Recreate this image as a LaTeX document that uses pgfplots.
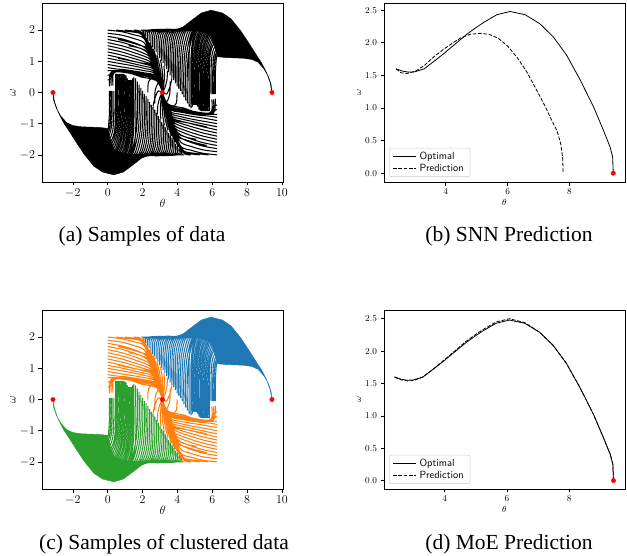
\documentclass[border=0pt]{standalone}
\usepackage{fontspec}
\usepackage{pgfplots}
\usepackage{pgfplotstable}
\pgfplotsset{compat=1.18}
\newfontfamily\capfont{Liberation Serif}
\definecolor{tabblue}{HTML}{1F77B4}
\definecolor{taborange}{HTML}{FF7F0E}
\definecolor{tabgreen}{HTML}{2CA02C}

% ---------- dense tail envelopes ----------
\pgfplotstableread{
x y
-3.14 0
-3.1 -0.25
-2.95 -0.5
-2.7 -0.75
-2.35 -0.97
-2.0 -1.06
-1.5 -1.1
-0.5 -1.12
0 -1.15
0.15 -1.5
0.4 -1.85
1.0 -1.97
2.3 -1.98
2.3 -2.0
2.0 -2.08
1.5 -2.3
0.9 -2.55
0.35 -2.64
-0.3 -2.55
-0.8 -2.36
-1.35 -1.98
-1.8 -1.6
-2.2 -1.25
-2.55 -0.95
-2.85 -0.62
-3.05 -0.3
-3.14 0
}\greenF
\pgfplotstableread{
x y
9.42 0
9.38 0.25
9.23 0.5
8.98 0.75
8.63 0.97
8.28 1.06
7.78 1.1
6.78 1.12
6.28 1.15
6.13 1.5
5.88 1.85
5.28 1.97
3.98 1.98
3.98 2.0
4.28 2.08
4.78 2.3
5.38 2.55
5.93 2.64
6.58 2.55
7.08 2.36
7.63 1.98
8.08 1.6
8.48 1.25
8.83 0.95
9.13 0.62
9.33 0.3
9.42 0
}\blueF

% ---------- green trajectories ----------
\pgfplotstableread{
x y
0.1 0.05
0.1 -0.6
0.06 -1.0
0 -1.2
-0.3 -1.2
nan nan
0.175 0.05
0.175 -0.65
0.13 -1.08
0.02 -1.3
-0.3 -1.35
nan nan
0.25 0.05
0.25 -0.7
0.2 -1.15
0.05 -1.4
-0.3 -1.5
nan nan
0.35 0.05
0.35 -0.6
0.3 -1.18
0.12 -1.48
-0.25 -1.6
nan nan
0.45 0.6
0.45 -0.5
0.4 -1.2
0.2 -1.55
-0.2 -1.7
nan nan
0.525 0.6
0.525 -0.55
0.46 -1.25
0.25 -1.62
-0.15 -1.8
nan nan
0.6 0.6
0.6 -0.6
0.53 -1.3
0.3 -1.7
-0.1 -1.9
nan nan
0.675 0.6
0.675 -0.65
0.6 -1.35
0.35 -1.78
-0.05 -1.98
nan nan
0.75 0.6
0.75 -0.7
0.67 -1.4
0.4 -1.85
0 -2.05
nan nan
0.825 0.6
0.825 -0.75
0.74 -1.45
0.45 -1.9
0.05 -2.12
nan nan
0.9 0.6
0.9 -0.8
0.8 -1.5
0.5 -1.95
0.1 -2.2
nan nan
0.975 0.58
0.975 -0.85
0.87 -1.55
0.55 -2.0
0.15 -2.25
nan nan
1.05 0.55
1.05 -0.9
0.93 -1.6
0.6 -2.05
0.2 -2.3
nan nan
1.125 0.45
1.125 -0.95
1.0 -1.65
0.65 -2.1
0.25 -2.35
nan nan
1.2 0.4
1.2 -1.0
1.06 -1.7
0.7 -2.15
0.3 -2.4
nan nan
1.275 0.4
1.275 -1.02
1.13 -1.72
0.78 -2.18
0.35 -2.45
nan nan
1.35 0.4
1.35 -1.05
1.2 -1.75
0.85 -2.2
0.4 -2.5
nan nan
1.425 0.45
1.425 -1.08
1.28 -1.78
0.92 -2.22
0.45 -2.52
nan nan
1.5 0.5
1.5 -1.1
1.35 -1.8
1.0 -2.25
0.5 -2.55
nan nan
1.6 0.45
1.61 -1.15
1.48 -1.82
1.15 -2.27
0.75 -2.45
nan nan
1.7 0.35
1.72 -0.4
1.65 -1.2
1.4 -1.85
1.0 -2.3
nan nan
1.8 0.25
1.82 -0.45
1.75 -1.25
1.5 -1.88
1.1 -2.3
nan nan
1.9 0.15
1.92 -0.5
1.85 -1.3
1.6 -1.9
1.2 -2.3
nan nan
2.0 0.05
2.02 -0.6
1.95 -1.35
1.72 -1.9
1.35 -2.25
nan nan
2.1 -0.05
2.12 -0.7
2.05 -1.4
1.85 -1.9
1.5 -2.2
nan nan
2.2 -0.12
2.21 -0.8
2.15 -1.45
1.95 -1.91
1.55 -2.2
nan nan
2.3 -0.2
2.3 -0.9
2.25 -1.5
2.05 -1.92
1.6 -2.2
nan nan
2.4 -0.3
2.4 -0.98
2.35 -1.55
2.15 -1.94
1.7 -2.16
nan nan
2.5 -0.4
2.5 -1.05
2.45 -1.6
2.25 -1.95
1.8 -2.12
nan nan
2.6 -0.47
2.6 -1.12
2.54 -1.65
2.35 -1.96
1.9 -2.1
nan nan
2.7 -0.55
2.7 -1.2
2.63 -1.7
2.45 -1.97
2.0 -2.08
nan nan
2.8 -0.65
2.8 -1.28
2.72 -1.75
2.52 -1.98
2.05 -2.06
nan nan
2.9 -0.75
2.9 -1.35
2.82 -1.8
2.6 -1.98
2.1 -2.05
nan nan
3.0 -0.85
3.0 -1.42
2.91 -1.83
2.7 -1.99
2.15 -2.04
nan nan
3.1 -0.95
3.1 -1.5
3.0 -1.85
2.8 -1.99
2.2 -2.03
nan nan
3.2 -1.02
3.2 -1.55
3.1 -1.88
2.88 -2.0
2.25 -2.03
nan nan
3.3 -1.1
3.3 -1.6
3.2 -1.9
2.95 -2.0
2.3 -2.02
nan nan
3.4 -1.2
3.4 -1.65
3.3 -1.92
3.02 -2.0
2.35 -2.02
nan nan
3.5 -1.3
3.5 -1.7
3.4 -1.93
3.1 -2.0
2.4 -2.02
nan nan
3.6 -1.38
3.6 -1.75
3.5 -1.95
3.2 -2.0
2.45 -2.02
nan nan
3.7 -1.45
3.7 -1.8
3.6 -1.96
3.3 -2.0
2.5 -2.02
nan nan
3.8 -1.55
3.8 -1.84
3.7 -1.97
3.4 -2.0
2.55 -2.02
nan nan
3.9 -1.65
3.9 -1.88
3.8 -1.98
3.5 -2.0
2.6 -2.02
nan nan
4.0 -1.72
4.0 -1.92
3.88 -1.99
3.5 -2.01
2.65 -2.02
nan nan
4.1 -1.8
4.1 -1.95
3.95 -2.0
3.5 -2.02
2.7 -2.03
nan nan
4.2 -1.9
4.2 -1.98
4.0 -2.0
3.5 -2.02
2.7 -2.03
nan nan
4.3 -2.0
3.8 -2.0
3.2 -2.0
2.6 -2.02
2.2 -2.03
}\greenT

% ---------- blue trajectories ----------
\pgfplotstableread{
x y
6.18 -0.05
6.18 0.6
6.22 1.0
6.28 1.2
6.58 1.2
nan nan
6.105 -0.05
6.105 0.65
6.15 1.08
6.26 1.3
6.58 1.35
nan nan
6.03 -0.05
6.03 0.7
6.08 1.15
6.23 1.4
6.58 1.5
nan nan
5.93 -0.05
5.93 0.6
5.98 1.18
6.16 1.48
6.53 1.6
nan nan
5.83 -0.6
5.83 0.5
5.88 1.2
6.08 1.55
6.48 1.7
nan nan
5.755 -0.6
5.755 0.55
5.82 1.25
6.03 1.62
6.43 1.8
nan nan
5.68 -0.6
5.68 0.6
5.75 1.3
5.98 1.7
6.38 1.9
nan nan
5.605 -0.6
5.605 0.65
5.68 1.35
5.93 1.78
6.33 1.98
nan nan
5.53 -0.6
5.53 0.7
5.61 1.4
5.88 1.85
6.28 2.05
nan nan
5.455 -0.6
5.455 0.75
5.54 1.45
5.83 1.9
6.23 2.12
nan nan
5.38 -0.6
5.38 0.8
5.48 1.5
5.78 1.95
6.18 2.2
nan nan
5.305 -0.58
5.305 0.85
5.41 1.55
5.73 2.0
6.13 2.25
nan nan
5.23 -0.55
5.23 0.9
5.35 1.6
5.68 2.05
6.08 2.3
nan nan
5.155 -0.45
5.155 0.95
5.28 1.65
5.63 2.1
6.03 2.35
nan nan
5.08 -0.4
5.08 1.0
5.22 1.7
5.58 2.15
5.98 2.4
nan nan
5.005 -0.4
5.005 1.02
5.15 1.72
5.5 2.18
5.93 2.45
nan nan
4.93 -0.4
4.93 1.05
5.08 1.75
5.43 2.2
5.88 2.5
nan nan
4.855 -0.45
4.855 1.08
5.0 1.78
5.36 2.22
5.83 2.52
nan nan
4.78 -0.5
4.78 1.1
4.93 1.8
5.28 2.25
5.78 2.55
nan nan
4.68 -0.45
4.67 1.15
4.8 1.82
5.13 2.27
5.53 2.45
nan nan
4.58 -0.35
4.56 0.4
4.63 1.2
4.88 1.85
5.28 2.3
nan nan
4.48 -0.25
4.46 0.45
4.53 1.25
4.78 1.88
5.18 2.3
nan nan
4.38 -0.15
4.36 0.5
4.43 1.3
4.68 1.9
5.08 2.3
nan nan
4.28 -0.05
4.26 0.6
4.33 1.35
4.56 1.9
4.93 2.25
nan nan
4.18 0.05
4.16 0.7
4.23 1.4
4.43 1.9
4.78 2.2
nan nan
4.08 0.12
4.07 0.8
4.13 1.45
4.33 1.91
4.73 2.2
nan nan
3.98 0.2
3.98 0.9
4.03 1.5
4.23 1.92
4.68 2.2
nan nan
3.88 0.3
3.88 0.98
3.93 1.55
4.13 1.94
4.58 2.16
nan nan
3.78 0.4
3.78 1.05
3.83 1.6
4.03 1.95
4.48 2.12
nan nan
3.68 0.47
3.68 1.12
3.74 1.65
3.93 1.96
4.38 2.1
nan nan
3.58 0.55
3.58 1.2
3.65 1.7
3.83 1.97
4.28 2.08
nan nan
3.48 0.65
3.48 1.28
3.56 1.75
3.76 1.98
4.23 2.06
nan nan
3.38 0.75
3.38 1.35
3.46 1.8
3.68 1.98
4.18 2.05
nan nan
3.28 0.85
3.28 1.42
3.37 1.83
3.58 1.99
4.13 2.04
nan nan
3.18 0.95
3.18 1.5
3.28 1.85
3.48 1.99
4.08 2.03
nan nan
3.08 1.02
3.08 1.55
3.18 1.88
3.4 2.0
4.03 2.03
nan nan
2.98 1.1
2.98 1.6
3.08 1.9
3.33 2.0
3.98 2.02
nan nan
2.88 1.2
2.88 1.65
2.98 1.92
3.26 2.0
3.93 2.02
nan nan
2.78 1.3
2.78 1.7
2.88 1.93
3.18 2.0
3.88 2.02
nan nan
2.68 1.38
2.68 1.75
2.78 1.95
3.08 2.0
3.83 2.02
nan nan
2.58 1.45
2.58 1.8
2.68 1.96
2.98 2.0
3.78 2.02
nan nan
2.48 1.55
2.48 1.84
2.58 1.97
2.88 2.0
3.73 2.02
nan nan
2.38 1.65
2.38 1.88
2.48 1.98
2.78 2.0
3.68 2.02
nan nan
2.28 1.72
2.28 1.92
2.4 1.99
2.78 2.01
3.63 2.02
nan nan
2.18 1.8
2.18 1.95
2.33 2.0
2.78 2.02
3.58 2.03
nan nan
2.08 1.9
2.08 1.98
2.28 2.0
2.78 2.02
3.58 2.03
nan nan
1.98 2.0
2.48 2.0
3.08 2.0
3.68 2.02
4.08 2.03
}\blueT

% ---------- orange trajectories ----------
\pgfplotstableread{
x y
0 2.0
0.8 1.95
1.5 1.85
2.1 1.72
2.5 1.12
2.85 0.51
3.14 0
nan nan
0 1.9
0.8 1.84
1.5 1.73
2.08 1.6
2.4 1.22
2.75 0.68
3.14 0
nan nan
0 1.8
0.8 1.72
1.5 1.6
2.05 1.47
2.35 1.3
2.6 0.93
2.9 0.42
3.14 0
nan nan
0 1.7
0.8 1.61
1.5 1.49
2.08 1.36
2.4 1.2
2.65 0.85
2.91 0.4
3.14 0
nan nan
0 1.6
0.8 1.5
1.5 1.38
2.1 1.25
2.42 1.14
2.67 0.8
2.92 0.38
3.14 0
nan nan
0 1.5
0.8 1.4
1.5 1.28
2.15 1.15
2.46 1.05
2.71 0.72
2.94 0.34
3.14 0
nan nan
0 1.4
0.8 1.3
1.5 1.18
2.2 1.05
2.5 0.95
2.75 0.65
2.96 0.3
3.14 0
nan nan
0 1.3
0.8 1.2
1.5 1.09
2.2 0.97
2.53 0.89
2.78 0.61
2.98 0.28
3.14 0
nan nan
0 1.2
0.8 1.1
1.5 1.0
2.2 0.9
2.55 0.83
2.8 0.57
3.0 0.25
3.14 0
nan nan
0 1.1
0.8 1.01
1.5 0.92
2.2 0.83
2.58 0.77
2.83 0.52
3.02 0.22
3.14 0
nan nan
0 1.0
0.8 0.92
1.5 0.85
2.2 0.76
2.6 0.7
2.85 0.47
3.03 0.2
3.14 0
nan nan
0 0.9
0.8 0.82
1.5 0.76
2.2 0.69
2.62 0.64
2.88 0.43
3.14 0
nan nan
0 0.8
0.4 0.76
1.0 0.73
1.6 0.68
2.2 0.62
2.65 0.57
2.9 0.38
3.14 0
nan nan
0 0.7
0.4 0.7
1.0 0.7
1.6 0.65
2.2 0.6
2.65 0.55
2.9 0.37
3.14 0
nan nan
0 0.55
0.3 0.6
0.45 0.67
1.0 0.69
1.6 0.64
2.25 0.57
2.7 0.5
2.95 0.3
3.14 0
nan nan
0 0.4
0.2 0.45
0.38 0.64
0.8 0.69
1.5 0.63
2.3 0.52
2.75 0.45
2.97 0.27
3.14 0
nan nan
0.2 0.22
0.22 0.6
0.55 0.68
1.2 0.64
1.8 0.55
2.4 0.5
2.8 0.4
3.0 0.23
3.14 0
nan nan
0.1 0.2
0.14 0.6
0.4 0.7
1.0 0.68
1.6 0.62
2.3 0.55
2.75 0.47
2.97 0.28
3.14 0
nan nan
0.3 0.22
0.32 0.62
0.7 0.66
1.4 0.6
1.9 0.5
2.4 0.45
2.8 0.38
3.0 0.22
3.14 0
nan nan
0.5 2.0
1.3 1.95
1.9 1.88
2.2 1.62
2.6 0.94
2.9 0.42
3.14 0
nan nan
1.0 2.0
1.6 1.96
2.0 1.88
2.3 1.47
2.7 0.77
3.14 0
nan nan
1.5 2.0
1.85 1.97
2.1 1.78
2.5 1.1
2.9 0.42
3.14 0
nan nan
1.9 2.0
2.05 1.95
2.3 1.47
2.7 0.77
3.14 0
nan nan
0.6 1.7
1.2 1.62
1.8 1.52
2.3 1.4
2.6 0.95
2.9 0.42
3.14 0
nan nan
0.6 1.1
1.2 1.03
1.9 0.95
2.45 0.88
2.75 0.64
3.0 0.25
3.14 0
nan nan
1.2 1.5
1.8 1.43
2.3 1.3
2.55 1.0
2.85 0.5
3.14 0
nan nan
2.3 0.0
2.35 0.35
2.7 0.5
2.95 0.33
3.14 0
nan nan
2.7 -0.35
2.72 0.05
2.9 0.3
3.05 0.15
3.14 0
nan nan
2.4 1.6
2.47 1.3
2.62 0.95
2.9 0.42
3.14 0
nan nan
2.8 1.1
2.84 0.8
2.94 0.5
3.05 0.2
3.14 0
nan nan
2.03 1.95
2.38 1.45
2.68 0.95
2.93 0.45
3.14 0
nan nan
2.23 1.75
2.53 1.3
2.78 0.85
2.98 0.4
3.14 0
nan nan
2.43 1.6
2.68 1.15
2.88 0.7
3.03 0.3
3.14 0
nan nan
2.63 1.4
2.83 1.0
2.98 0.58
3.08 0.25
3.14 0
nan nan
2.83 1.2
2.98 0.85
3.08 0.45
3.14 0
nan nan
3.03 1.05
3.13 0.7
3.16 0.35
3.14 0
nan nan
3.23 0.85
3.26 0.55
3.22 0.25
3.14 0
nan nan
3.43 0.7
3.4 0.4
3.28 0.15
3.14 0
nan nan
3.68 0.45
3.58 0.2
3.38 -0.05
3.14 0
nan nan
6.28 -2.0
5.48 -1.95
4.78 -1.85
4.18 -1.72
3.78 -1.12
3.43 -0.51
3.14 0
nan nan
6.28 -1.9
5.48 -1.84
4.78 -1.73
4.2 -1.6
3.88 -1.22
3.53 -0.68
3.14 0
nan nan
6.28 -1.8
5.48 -1.72
4.78 -1.6
4.23 -1.47
3.93 -1.3
3.68 -0.93
3.38 -0.42
3.14 0
nan nan
6.28 -1.7
5.48 -1.61
4.78 -1.49
4.2 -1.36
3.88 -1.2
3.63 -0.85
3.37 -0.4
3.14 0
nan nan
6.28 -1.6
5.48 -1.5
4.78 -1.38
4.18 -1.25
3.86 -1.14
3.61 -0.8
3.36 -0.38
3.14 0
nan nan
6.28 -1.5
5.48 -1.4
4.78 -1.28
4.13 -1.15
3.82 -1.05
3.57 -0.72
3.34 -0.34
3.14 0
nan nan
6.28 -1.4
5.48 -1.3
4.78 -1.18
4.08 -1.05
3.78 -0.95
3.53 -0.65
3.32 -0.3
3.14 0
nan nan
6.28 -1.3
5.48 -1.2
4.78 -1.09
4.08 -0.97
3.75 -0.89
3.5 -0.61
3.3 -0.28
3.14 0
nan nan
6.28 -1.2
5.48 -1.1
4.78 -1.0
4.08 -0.9
3.73 -0.83
3.48 -0.57
3.28 -0.25
3.14 0
nan nan
6.28 -1.1
5.48 -1.01
4.78 -0.92
4.08 -0.83
3.7 -0.77
3.45 -0.52
3.26 -0.22
3.14 0
nan nan
6.28 -1.0
5.48 -0.92
4.78 -0.85
4.08 -0.76
3.68 -0.7
3.43 -0.47
3.25 -0.2
3.14 0
nan nan
6.28 -0.9
5.48 -0.82
4.78 -0.76
4.08 -0.69
3.66 -0.64
3.4 -0.43
3.14 0
nan nan
6.28 -0.8
5.88 -0.76
5.28 -0.73
4.68 -0.68
4.08 -0.62
3.63 -0.57
3.38 -0.38
3.14 0
nan nan
6.28 -0.7
5.88 -0.7
5.28 -0.7
4.68 -0.65
4.08 -0.6
3.63 -0.55
3.38 -0.37
3.14 0
nan nan
6.28 -0.55
5.98 -0.6
5.83 -0.67
5.28 -0.69
4.68 -0.64
4.03 -0.57
3.58 -0.5
3.33 -0.3
3.14 0
nan nan
6.28 -0.4
6.08 -0.45
5.9 -0.64
5.48 -0.69
4.78 -0.63
3.98 -0.52
3.53 -0.45
3.31 -0.27
3.14 0
nan nan
6.08 -0.22
6.06 -0.6
5.73 -0.68
5.08 -0.64
4.48 -0.55
3.88 -0.5
3.48 -0.4
3.28 -0.23
3.14 0
nan nan
6.18 -0.2
6.14 -0.6
5.88 -0.7
5.28 -0.68
4.68 -0.62
3.98 -0.55
3.53 -0.47
3.31 -0.28
3.14 0
nan nan
5.98 -0.22
5.96 -0.62
5.58 -0.66
4.88 -0.6
4.38 -0.5
3.88 -0.45
3.48 -0.38
3.28 -0.22
3.14 0
nan nan
5.78 -2.0
4.98 -1.95
4.38 -1.88
4.08 -1.62
3.68 -0.94
3.38 -0.42
3.14 0
nan nan
5.28 -2.0
4.68 -1.96
4.28 -1.88
3.98 -1.47
3.58 -0.77
3.14 0
nan nan
4.78 -2.0
4.43 -1.97
4.18 -1.78
3.78 -1.1
3.38 -0.42
3.14 0
nan nan
4.38 -2.0
4.23 -1.95
3.98 -1.47
3.58 -0.77
3.14 0
nan nan
5.68 -1.7
5.08 -1.62
4.48 -1.52
3.98 -1.4
3.68 -0.95
3.38 -0.42
3.14 0
nan nan
5.68 -1.1
5.08 -1.03
4.38 -0.95
3.83 -0.88
3.53 -0.64
3.28 -0.25
3.14 0
nan nan
5.08 -1.5
4.48 -1.43
3.98 -1.3
3.73 -1.0
3.43 -0.5
3.14 0
nan nan
3.98 0.0
3.93 -0.35
3.58 -0.5
3.33 -0.33
3.14 0
nan nan
3.58 0.35
3.56 -0.05
3.38 -0.3
3.23 -0.15
3.14 0
nan nan
3.88 -1.6
3.81 -1.3
3.66 -0.95
3.38 -0.42
3.14 0
nan nan
3.48 -1.1
3.44 -0.8
3.34 -0.5
3.23 -0.2
3.14 0
nan nan
4.25 -1.95
3.9 -1.45
3.6 -0.95
3.35 -0.45
3.14 0
nan nan
4.05 -1.75
3.75 -1.3
3.5 -0.85
3.3 -0.4
3.14 0
nan nan
3.85 -1.6
3.6 -1.15
3.4 -0.7
3.25 -0.3
3.14 0
nan nan
3.65 -1.4
3.45 -1.0
3.3 -0.58
3.2 -0.25
3.14 0
nan nan
3.45 -1.2
3.3 -0.85
3.2 -0.45
3.14 0
nan nan
3.25 -1.05
3.15 -0.7
3.12 -0.35
3.14 0
nan nan
3.05 -0.85
3.02 -0.55
3.06 -0.25
3.14 0
nan nan
2.85 -0.7
2.88 -0.4
3.0 -0.15
3.14 0
nan nan
2.6 -0.45
2.7 -0.2
2.9 0.05
3.14 0
}\orangeT

% ---------- right panels ----------
\pgfplotstableread{
x y
2.39 1.60
2.6 1.565
2.8 1.55
3.0 1.555
3.3 1.6
3.6 1.71
3.9 1.82
4.25 1.96
4.68 2.13
5.0 2.24
5.22 2.31
5.65 2.43
6.08 2.48
6.57 2.43
7.05 2.29
7.48 2.09
7.91 1.81
8.35 1.43
8.78 1.02
9.1 0.66
9.32 0.4
9.4 0.25
9.42 0.0
}\optT
\pgfplotstableread{
x y
2.39 1.60
2.55 1.54
2.75 1.53
3.0 1.56
3.3 1.65
3.6 1.78
3.9 1.89
4.2 1.99
4.5 2.08
4.8 2.13
5.1 2.145
5.4 2.13
5.7 2.07
6.0 1.95
6.3 1.78
6.6 1.57
6.9 1.31
7.2 1.04
7.4 0.84
7.6 0.65
7.72 0.45
7.78 0.25
7.8 0.0
}\snnT
\pgfplotstableread{
x y
2.39 1.60
2.6 1.555
2.8 1.54
3.0 1.545
3.3 1.6
3.6 1.71
3.9 1.83
4.25 1.97
4.68 2.15
5.0 2.26
5.22 2.33
5.65 2.45
6.08 2.50
6.57 2.44
7.05 2.29
7.48 2.09
7.91 1.81
8.35 1.43
8.78 1.02
9.1 0.66
9.32 0.4
9.4 0.25
9.42 0.0
}\moeT

\pgfplotsset{
  mplbase/.style={
    scale only axis, width=241pt, height=179pt,
    axis line style={line width=0.6pt, black},
    tick align=outside, xtick pos=bottom, ytick pos=left,
    major tick length=3.5pt,
    every tick/.style={black, line width=0.6pt},
    minor tick num=0,
    xlabel={$\theta$}, ylabel={$\omega$},
  },
  leftax/.style={mplbase,
    xmin=-3.77, xmax=10.06, ymin=-2.87, ymax=2.87,
    xtick={-2,0,2,4,6,8,10}, ytick={-2,-1,0,1,2},
    ticklabel style={font=\fontsize{11.5}{13}\selectfont},
    label style={font=\fontsize{11.5}{13}\selectfont},
    xlabel style={at={(axis description cs:0.5,-0.12)}, anchor=center},
    ylabel style={at={(axis description cs:-0.12,0.5)}, anchor=center},
  },
  rightax/.style={mplbase,
    xtick={4,6,8}, ytick={0,0.5,1,1.5,2,2.5},
    yticklabel style={/pgf/number format/.cd, fixed, fixed zerofill, precision=1},
    ticklabel style={font=\fontsize{9.5}{11}\selectfont},
    label style={font=\fontsize{9.5}{11}\selectfont},
    xlabel style={at={(axis description cs:0.5,-0.112)}, anchor=center},
    ylabel style={at={(axis description cs:-0.104,0.5)}, anchor=center},
    legend style={at={(axis description cs:0.0207,0.028)}, anchor=south west,
      draw=black!20, rounded corners=2pt, line width=0.5pt,
      fill=white, font=\sffamily\fontsize{10.4}{12}\selectfont,
      inner xsep=3.5pt, inner ysep=2.5pt, row sep=2pt,
      nodes={inner xsep=3pt, inner ysep=1pt}},
    legend cell align=left,
    legend image code/.code={\draw[##1] (0pt,0pt) -- (23pt,0pt);},
  },
  traj/.style={line width=1.05pt, smooth, unbounded coords=jump},
  env/.style={line width=0.4pt},
  dots/.style={only marks, mark=*, mark size=2.2pt, red},
}

\begin{document}
\begin{tikzpicture}
\path[use as bounding box] (0pt,0pt) rectangle (627pt,-556pt);

% (a)
\begin{axis}[leftax, at={(42pt,-3pt)}, anchor=north west]
\addplot[env, draw=black, fill=black] table {\greenF};
\addplot[env, draw=black, fill=black] table {\blueF};
\addplot[traj, black] table {\blueT};
\addplot[traj, black] table {\orangeT};
\addplot[traj, black] table {\greenT};
\addplot[dots] coordinates {(-3.1416,0) (3.1416,0) (9.4248,0)};
\end{axis}

% (b)
\begin{axis}[rightax, at={(384pt,-3pt)}, anchor=north west,
  xmin=2.0, xmax=9.8, ymin=-0.135, ymax=2.61]
\addplot[black, line width=0.8pt] table {\optT};
\addlegendentry{Optimal}
\addplot[black, line width=0.8pt, dash pattern=on 3.7pt off 1.6pt] table {\snnT};
\addlegendentry{Prediction}
\addplot[dots, forget plot] coordinates {(9.42,0)};
\end{axis}

% (c)
\begin{axis}[leftax, at={(42pt,-310pt)}, anchor=north west]
\addplot[env, draw=tabgreen, fill=tabgreen] table {\greenF};
\addplot[env, draw=tabblue, fill=tabblue] table {\blueF};
\addplot[traj, tabblue] table {\blueT};
\addplot[traj, taborange] table {\orangeT};
\addplot[traj, tabgreen] table {\greenT};
\addplot[dots] coordinates {(-3.1416,0) (3.1416,0) (9.4248,0)};
\end{axis}

% (d)
\begin{axis}[rightax, at={(384pt,-310pt)}, anchor=north west,
  xmin=2.05, xmax=9.79, ymin=-0.13, ymax=2.635]
\addplot[black, line width=0.8pt] table {\optT};
\addlegendentry{Optimal}
\addplot[black, line width=0.8pt, dash pattern=on 3.7pt off 1.6pt] table {\moeT};
\addlegendentry{Prediction}
\addplot[dots, forget plot] coordinates {(9.42,0)};
\end{axis}

\node[anchor=base, font=\capfont\fontsize{21.5}{24}\selectfont] at (142pt,-242pt) {(a) Samples of data};
\node[anchor=base, font=\capfont\fontsize{21.5}{24}\selectfont] at (509pt,-242pt) {(b) SNN Prediction};
\node[anchor=base, font=\capfont\fontsize{21.5}{24}\selectfont] at (164pt,-549pt) {(c) Samples of clustered data};
\node[anchor=base, font=\capfont\fontsize{21.5}{24}\selectfont] at (509pt,-549pt) {(d) MoE Prediction};
\end{tikzpicture}
\end{document}
